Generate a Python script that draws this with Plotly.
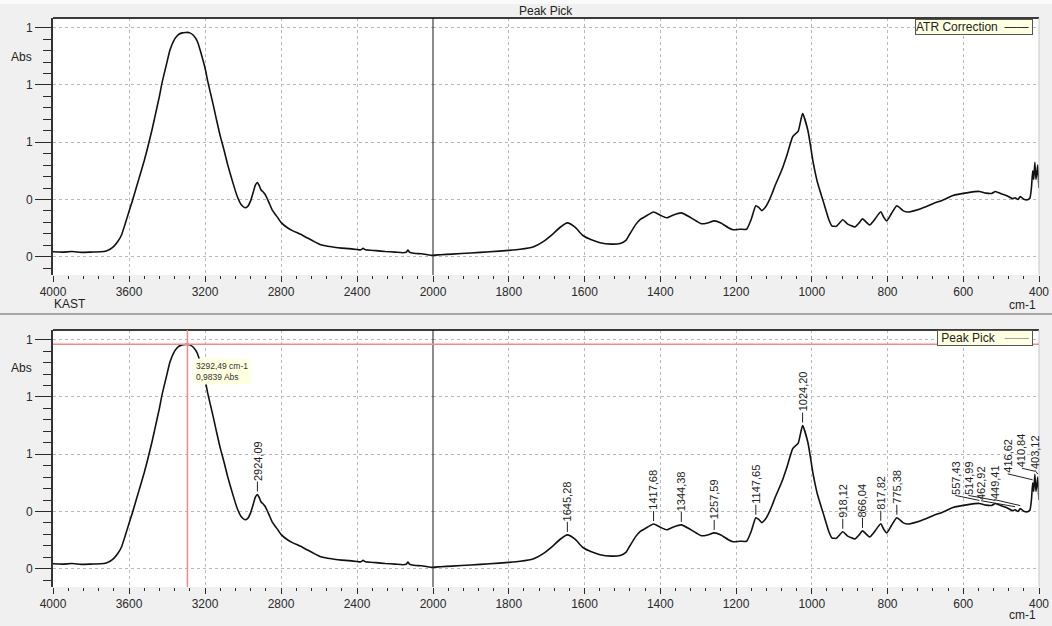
import numpy as np
import plotly.graph_objects as go

# ATR-FTIR spectrum (wavenumber in cm-1, absorbance in Abs)
wavenumber = [
    4000, 3950, 3900, 3850, 3800, 3750, 3720, 3700, 3680, 3660, 3640, 3620,
    3600, 3580, 3560, 3540, 3520, 3505, 3480, 3460, 3440, 3426, 3400, 3384,
    3360, 3340, 3320, 3300, 3292.49, 3280, 3260, 3240, 3226, 3210, 3200, 3184,
    3160, 3140, 3120, 3100, 3080, 3053, 3030, 3010, 2990, 2975, 2960, 2945,
    2935, 2924.09, 2915, 2905, 2895, 2885, 2874, 2860, 2845, 2821, 2800, 2768,
    2740, 2700, 2660, 2620, 2595, 2560, 2520, 2480, 2440, 2400, 2380, 2368,
    2355, 2300, 2250, 2200, 2160, 2140, 2132, 2124, 2100, 2060, 2030, 2000,
    1980, 1950, 1900, 1850, 1800, 1770, 1736, 1710, 1683, 1665, 1645.28, 1625,
    1604, 1580, 1559, 1530, 1506, 1490, 1480, 1465, 1454, 1440, 1417.68, 1400,
    1383, 1365, 1344.38, 1320, 1291, 1275, 1257.59, 1240, 1220, 1208, 1190,
    1172, 1160, 1147.65, 1140, 1132, 1122, 1115, 1105, 1097, 1080, 1066, 1050,
    1036, 1024.20, 1010, 997, 985, 970, 955, 947, 935, 918.12, 905, 886, 875,
    866.04, 847, 835, 817.82, 810, 802, 790, 775.38, 760, 749, 714, 680, 650,
    627, 591, 557.43, 540, 525, 514.99, 500, 485, 470, 462.92, 455, 449.41,
    440, 430, 424, 420, 416.62, 414, 410.84, 408, 405, 403.12, 401, 400,
]
absorbance = [
    0.217, 0.216, 0.218, 0.215, 0.216, 0.217, 0.220, 0.226, 0.236, 0.252, 0.275, 0.315,
    0.358, 0.400, 0.445, 0.490, 0.535, 0.573, 0.640, 0.700, 0.760, 0.808, 0.880, 0.923,
    0.960, 0.976, 0.982, 0.9835, 0.9839, 0.982, 0.973, 0.952, 0.923, 0.885, 0.860, 0.808,
    0.740, 0.680, 0.622, 0.573, 0.520, 0.458, 0.410, 0.382, 0.371, 0.376, 0.395, 0.428,
    0.450, 0.459, 0.449, 0.433, 0.427, 0.419, 0.405, 0.384, 0.362, 0.340, 0.320, 0.302,
    0.291, 0.279, 0.265, 0.251, 0.243, 0.237, 0.233, 0.230, 0.228, 0.225, 0.224, 0.229,
    0.224, 0.221, 0.218, 0.216, 0.214, 0.216, 0.223, 0.216, 0.212, 0.210, 0.207, 0.205,
    0.207, 0.209, 0.213, 0.217, 0.222, 0.226, 0.234, 0.252, 0.280, 0.302, 0.318, 0.303,
    0.274, 0.258, 0.249, 0.244, 0.246, 0.258, 0.280, 0.312, 0.329, 0.340, 0.356, 0.345,
    0.336, 0.346, 0.353, 0.337, 0.315, 0.318, 0.325, 0.318, 0.301, 0.294, 0.296,
    0.296, 0.330, 0.378, 0.372, 0.361, 0.374, 0.390, 0.420, 0.448, 0.500, 0.553, 0.620,
    0.638, 0.700, 0.640, 0.535, 0.460, 0.395, 0.330, 0.308, 0.306, 0.329, 0.314, 0.304, 0.318,
    0.332, 0.311, 0.328, 0.357, 0.338, 0.325, 0.350, 0.378, 0.362, 0.356, 0.367, 0.385, 0.400,
    0.414, 0.423, 0.428, 0.422, 0.421, 0.428, 0.420, 0.413, 0.403, 0.406, 0.400, 0.410,
    0.401, 0.399, 0.405, 0.440, 0.500, 0.470, 0.530, 0.470, 0.500, 0.520, 0.460, 0.440,
]

# Picked peaks
peak_wn = [2924.09, 1645.28, 1417.68, 1344.38, 1257.59, 1147.65, 1024.20, 918.12,
           866.04, 817.82, 775.38, 557.43, 514.99, 462.92, 449.41, 416.62, 410.84, 403.12]
peak_text = ["2924,09", "1645,28", "1417,68", "1344,38", "1257,59", "1147,65", "1024,20",
             "918,12", "866,04", "817,82", "775,38", "557,43", "514,99", "462,92",
             "449,41", "416,62", "410,84", "403,12"]

# Cursor readout
cursor_wn = 3292.49
cursor_abs = 0.9839

# Y tick values and their (rounded) labels
y_tickvals = [0.2, 0.4, 0.6, 0.8, 1.0]
y_ticktext = ["0", "0", "1", "1", "1"]
x_ticks_high = [4000, 3600, 3200, 2800, 2400]
x_ticks_low = [2000, 1800, 1600, 1400, 1200, 1000, 800, 600, 400]

FONT = "Liberation Sans, Arial, sans-serif"
INK = "#2a2a2a"
GRID = "#b8b8b8"
W, H = 1052, 626

# split x scale: 4000-2000 compressed, 2000-400 expanded
XL = [53 / W, 433 / W]
XR = [433 / W, 1039 / W]
Y_TOP = [(H - 275) / H, (H - 18) / H]
Y_BOT = [(H - 587) / H, (H - 330) / H]
Y_RANGE = [0.136, 1.034]

fig = go.Figure()
line_style = dict(color="#111111", width=1.6, shape="spline", smoothing=0.5)
for xa, ya in [("x", "y"), ("x2", "y2"), ("x3", "y3"), ("x4", "y4")]:
    fig.add_trace(go.Scatter(x=wavenumber, y=absorbance, mode="lines", line=line_style,
                             xaxis=xa, yaxis=ya, showlegend=False, hoverinfo="skip"))


def xaxis(domain, rng, ticks, minor_step, anchor):
    return dict(domain=domain, range=rng, anchor=anchor, tickmode="array", tickvals=ticks,
                ticktext=[str(t) for t in ticks], ticks="outside", ticklen=6, tickwidth=1,
                tickcolor=INK, showline=False, zeroline=False,
                showgrid=True, gridcolor=GRID, griddash="dot", gridwidth=1,
                minor=dict(tickmode="linear", tick0=0, dtick=minor_step, ticks="outside",
                           ticklen=3, tickcolor=INK, showgrid=False),
                tickfont=dict(family=FONT, size=12, color=INK))


def yaxis(domain, anchor, labels):
    d = dict(domain=domain, range=Y_RANGE, anchor=anchor, tickmode="array",
             tickvals=y_tickvals, ticktext=y_ticktext, zeroline=False,
             showgrid=True, gridcolor=GRID, griddash="dot", gridwidth=1,
             tickfont=dict(family=FONT, size=12, color=INK))
    if labels:
        d.update(ticks="outside", ticklen=16, tickwidth=1, tickcolor=INK,
                 showline=True, linecolor="#333333", linewidth=2,
                 minor=dict(tickmode="linear", tick0=0, dtick=0.04, ticks="outside",
                            ticklen=8, tickcolor=INK, showgrid=False))
    else:
        d.update(showticklabels=False, ticks="", showline=False)
    return d


fig.update_layout(
    width=W, height=H,
    margin=dict(l=0, r=0, t=0, b=0, autoexpand=False),
    paper_bgcolor="#f0f0f0", plot_bgcolor="#ffffff",
    font=dict(family=FONT, color=INK),
    xaxis=xaxis(XL, [4000, 2000], x_ticks_high, 80, "y"),
    xaxis2=xaxis(XR, [2000, 400], x_ticks_low, 40, "y2"),
    xaxis3=xaxis(XL, [4000, 2000], x_ticks_high, 80, "y3"),
    xaxis4=xaxis(XR, [2000, 400], x_ticks_low, 40, "y4"),
    yaxis=yaxis(Y_TOP, "x", True),
    yaxis2=yaxis(Y_TOP, "x2", False),
    yaxis3=yaxis(Y_BOT, "x3", True),
    yaxis4=yaxis(Y_BOT, "x4", False),
)

shapes = []
# header strip and panel divider
shapes.append(dict(type="rect", xref="paper", yref="paper", x0=0, x1=1,
                   y0=(H - 4) / H, y1=1, fillcolor="#fafafa", line=dict(width=0), layer="below"))
shapes.append(dict(type="line", xref="paper", yref="paper", x0=0, x1=1,
                   y0=(H - 314) / H, y1=(H - 314) / H, line=dict(color="#a8a8a8", width=2)))
for ya in ["y", "y3"]:
    # dark top frame, light right frame, black 2000 cm-1 split line
    shapes.append(dict(type="line", xref="paper", yref=f"{ya} domain", x0=XL[0], x1=XR[1],
                       y0=1, y1=1, line=dict(color="#3a3a3a", width=2)))
    shapes.append(dict(type="line", xref="paper", yref=f"{ya} domain", x0=XR[1], x1=XR[1],
                       y0=0, y1=1, line=dict(color="#c8c8c8", width=1)))
    shapes.append(dict(type="line", xref="paper", yref=f"{ya} domain", x0=XR[0], x1=XR[0],
                       y0=0, y1=1, line=dict(color="#1a1a1a", width=1)))
# cursor crosshair
shapes.append(dict(type="line", xref="x3", yref="y3 domain", x0=cursor_wn, x1=cursor_wn,
                   y0=0, y1=1, line=dict(color="#f08a8a", width=1.5)))
shapes.append(dict(type="line", xref="paper", yref="y3", x0=XL[0], x1=XR[1],
                   y0=cursor_abs, y1=cursor_abs, line=dict(color="#f08a8a", width=1.5)))


def txt(text, x, y, xanchor="center", yanchor="middle", size=12, **kw):
    return dict(text=text, xref="paper", yref="paper", x=x / W, y=(H - y) / H,
                xanchor=xanchor, yanchor=yanchor, showarrow=False,
                font=dict(family=FONT, size=size, color="#222"), **kw)


ann = [
    txt("Peak Pick", 546, 11),
    txt("Abs", 34, 57, xanchor="right"),
    txt("Abs", 34, 368, xanchor="right"),
    txt("KAST", 52, 304, xanchor="left"),
    txt("cm-1", 1038, 305, xanchor="right"),
    txt("cm-1", 1038, 615, xanchor="right"),
    txt("ATR Correction  <span style='color:#333'>——</span> ", 1033, 19,
        xanchor="right", yanchor="top", bgcolor="#ffffe1", bordercolor="#555555",
        borderwidth=1, borderpad=0),
    txt(" Peak Pick   <span style='color:#a0a0a0'>——</span> ", 1033, 330,
        xanchor="right", yanchor="top", bgcolor="#ffffe1", bordercolor="#555555",
        borderwidth=1, borderpad=0),
]
# cursor readout
ann.append(dict(text="3292,49 cm-1<br>0,9839 Abs", xref="x3", yref="y3", x=cursor_wn,
                y=cursor_abs, xanchor="left", yanchor="top", xshift=6, yshift=-14,
                showarrow=False, align="left", bgcolor="#ffffe1", borderpad=2,
                font=dict(family=FONT, size=8.5, color="#333")))

# peak labels: short tick above each peak, vertical text above the tick;
# crowded labels are pulled left with a leader line (dx, dy in pixels)
LABEL_SIZE = 11
label_shift = {"557,43": (-24, 8), "514,99": (-27, 8), "462,92": (-34, 9),
               "449,41": (-26, 9), "416,62": (-25, 9), "410,84": (-13, 6),
               "403,12": (-3, 7)}
wn_asc = wavenumber[::-1]
ab_asc = absorbance[::-1]
for wn, label in zip(peak_wn, peak_text):
    yv = float(np.interp(wn, wn_asc, ab_asc))
    dx, dy = label_shift.get(label, (0, 13))
    xa, ya = ("x3", "y3") if wn > 2000 else ("x4", "y4")
    shapes.append(dict(type="line", xref=xa, yref=ya, xsizemode="pixel", ysizemode="pixel",
                       xanchor=wn, yanchor=yv, x0=0, x1=dx, y0=3, y1=dy,
                       line=dict(color="#222", width=1)))
    n_comma = label.count(",")
    length = LABEL_SIZE * (0.556 * (len(label) - n_comma) + 0.278 * n_comma)
    ann.append(dict(text=label, xref=xa, yref=ya, x=wn, y=yv, textangle=-90,
                    showarrow=False, xanchor="center", yanchor="middle",
                    xshift=dx, yshift=dy + length / 2 + 1, borderpad=0,
                    font=dict(family=FONT, size=LABEL_SIZE, color="#222")))

fig.update_layout(shapes=shapes, annotations=ann)
fig.write_html("out.html")
